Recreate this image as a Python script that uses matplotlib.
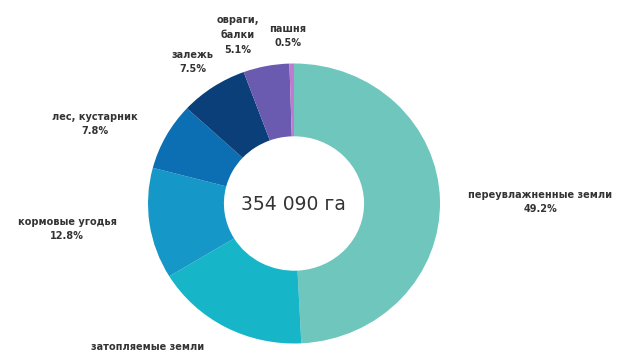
import matplotlib
matplotlib.use("Agg")
import matplotlib.pyplot as plt

# доли земель, по часовой стрелке от 12 часов
labels = ["переувлажненные земли", "затопляемые земли", "кормовые угодья",
          "лес, кустарник", "залежь", "овраги,\nбалки", "пашня"]
shares = [49.2, 17.1, 12.8, 7.8, 7.5, 5.1, 0.5]
colors = ["#6fc6bd", "#17b5c8", "#1597c8", "#0d6fb3", "#0b3f7a", "#6a5bb0", "#c07ad0"]
total = "354 090 га"

fig = plt.figure(figsize=(6.19, 3.51), dpi=100)
ax = fig.add_axes([0, 0, 1, 1])

ax.pie(shares, colors=colors, startangle=90, counterclock=False,
       wedgeprops=dict(width=0.52, linewidth=0))

# пиксели -> единицы радиуса (картинка немного растянута по горизонтали)
cx, cy, rx, ry = 294, 203.5, 146, 140
ax.set_xlim(-cx / rx, (619 - cx) / rx)
ax.set_ylim(-(351 - cy) / ry, cy / ry)
ax.set_aspect("auto")
ax.axis("off")


def px(x, y):
    return (x - cx) / rx, (cy - y) / ry


ax.text(*px(293, 205), total, ha="center", va="center", fontsize=13.5, color="#333333")

# позиции подписей (центр текста, пиксели)
label_pos = [(540, 202), (148, 347), (67, 229), (95, 124), (193, 62), (238, 35), (288, 36)]
for name, val, (x, y) in zip(labels, shares, label_pos):
    if name.startswith("затопляемые"):
        s = name  # процент за краем картинки
    else:
        s = f"{name}\n{val}%"
    ax.text(*px(x, y), s, ha="center", va="center", fontsize=7, fontweight="bold",
            color="#333333", linespacing=1.6)

fig.savefig("out.png", dpi=100)
